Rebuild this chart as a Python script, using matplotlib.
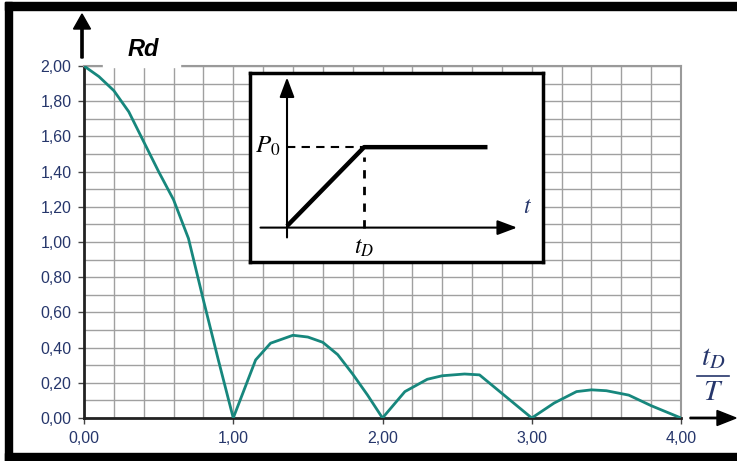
import matplotlib
matplotlib.use('Agg')
import matplotlib.pyplot as plt
from matplotlib.patches import Rectangle
from matplotlib.ticker import FuncFormatter, MultipleLocator

plt.rcParams['font.family'] = ['Liberation Sans', 'DejaVu Sans']
plt.rcParams['mathtext.fontset'] = 'stix'

# dynamic load factor vs. t_D / T
ratio = [0.0, 0.1, 0.2, 0.3, 0.4, 0.5, 0.6, 0.7, 0.8, 0.9, 1.0,
         1.1, 1.15, 1.25, 1.4, 1.5, 1.6, 1.7, 1.8, 1.9, 2.0,
         2.15, 2.3, 2.4, 2.55, 2.65, 2.7, 2.8, 2.9, 3.0,
         3.15, 3.3, 3.4, 3.5, 3.65, 3.8, 4.0]
rd = [2.00, 1.94, 1.86, 1.74, 1.57, 1.40, 1.24, 1.02, 0.67, 0.33, 0.00,
      0.22, 0.33, 0.425, 0.47, 0.46, 0.43, 0.36, 0.25, 0.13, 0.00,
      0.15, 0.22, 0.24, 0.25, 0.245, 0.21, 0.14, 0.07, 0.00,
      0.085, 0.15, 0.16, 0.155, 0.13, 0.07, 0.00]

# ramp load sketch: rises to P0 at t_D, then stays constant
load_t = [0.0, 1.0, 2.6]
load_p = [0.0, 1.0, 1.0]

W, H = 737, 461
navy = '#26366b'
teal = '#17877d'

fig = plt.figure(figsize=(W / 100, H / 100), dpi=100)

def box(x0, y0, x1, y1):
    # pixel box (top-left origin) -> figure fraction rect
    return [x0 / W, 1 - y1 / H, (x1 - x0) / W, (y1 - y0) / H]

ax = fig.add_axes(box(84, 66, 681, 418))
ax.plot(ratio, rd, color=teal, lw=2.0, zorder=3)
ax.set_xlim(0, 4)
ax.set_ylim(0, 2)
ax.xaxis.set_major_locator(MultipleLocator(1))
ax.xaxis.set_minor_locator(MultipleLocator(0.2))
ax.yaxis.set_major_locator(MultipleLocator(0.2))
ax.yaxis.set_minor_locator(MultipleLocator(0.1))
fmt = FuncFormatter(lambda v, _: f'{v:.2f}'.replace('.', ','))
ax.xaxis.set_major_formatter(fmt)
ax.yaxis.set_major_formatter(fmt)
ax.grid(which='both', color='#a0a0a0', lw=1.0)
ax.set_axisbelow(True)
ax.tick_params(which='major', length=4, width=1, color='#444444',
               labelsize=11.5, labelcolor=navy, pad=5)
ax.tick_params(which='minor', length=0)
for side in ('left', 'bottom'):
    ax.spines[side].set_color('#222222')
    ax.spines[side].set_linewidth(2)
for side in ('top', 'right'):
    ax.spines[side].set_color('#9a9a9a')
    ax.spines[side].set_linewidth(1.5)

# axis arrows outside the plot
fig.patches.append(Rectangle((103 / W, 1 - 67 / H), 77 / W, 57 / H,
                             transform=fig.transFigure, color='white',
                             zorder=5))
fig.text(143 / W, 1 - 49 / H, 'Rd', fontsize=17, fontweight='bold',
         fontstyle='italic', ha='center', va='center', zorder=6)
fig.add_artist(matplotlib.patches.FancyArrow(
    82 / W, 1 - 58 / H, 0, 44 / H, width=1.4 / H, head_width=17 / W,
    head_length=15 / H, length_includes_head=True, color='black',
    transform=fig.transFigure))
fig.add_artist(matplotlib.patches.FancyArrow(
    690 / W, 1 - 418 / H, 46 / W, 0, width=1.4 / H, head_width=15 / H,
    head_length=19 / W, length_includes_head=True, color='black',
    transform=fig.transFigure))
fig.text(713 / W, 1 - 357 / H, r'$t_D$', fontsize=21, color=navy,
         ha='center', va='center')
fig.add_artist(plt.Line2D([697 / W, 729 / W], [1 - 376 / H, 1 - 376 / H],
                          color=navy, lw=1.2, transform=fig.transFigure))
fig.text(713 / W, 1 - 392 / H, r'$T$', fontsize=21, color=navy,
         ha='center', va='center')

# inset with the load history
ins = fig.add_axes(box(250, 73, 543, 262))
ins.set_xlim(-0.48, 3.32)
ins.set_ylim(-0.456, 1.94)
ins.set_xticks([])
ins.set_yticks([])
for s in ins.spines.values():
    s.set_linewidth(2.5)
ins.plot(load_t, load_p, color='black', lw=3.2, solid_capstyle='butt')
ins.plot([0, load_t[1]], [load_p[1], load_p[1]], color='black', lw=1.5,
         ls=(0, (4, 3)))
ins.plot([load_t[1], load_t[1]], [-0.02, load_p[1] - 0.12], color='black',
         lw=2, ls=(0, (3, 3)))
ins.annotate('', xy=(3.02, -0.02), xytext=(-0.38, -0.02),
             arrowprops=dict(arrowstyle='-|>,head_length=1.2,head_width=0.45',
                             color='black', lw=1.5))
ins.annotate('', xy=(0, 1.92), xytext=(0, -0.18),
             arrowprops=dict(arrowstyle='-|>,head_length=1.2,head_width=0.45',
                             color='black', lw=1.5))
ins.text(-0.09, 1.02, r'$P_0$', fontsize=18, ha='right', va='center')
ins.text(3.12, 0.24, r'$t$', fontsize=17, ha='center', va='center',
         color=navy)
ins.text(1.0, -0.28, r'$t_D$', fontsize=17, ha='center', va='center')

# black frame round the sheet (open on the right)
for rect in [(5, 2, 737, 10), (5, 2, 12, 461), (5, 453, 737, 461)]:
    x0, y0, x1, y1 = rect
    fig.patches.append(Rectangle((x0 / W, 1 - y1 / H), (x1 - x0) / W,
                                 (y1 - y0) / H, transform=fig.transFigure,
                                 color='black', zorder=10))

fig.savefig('out.png', dpi=100)
